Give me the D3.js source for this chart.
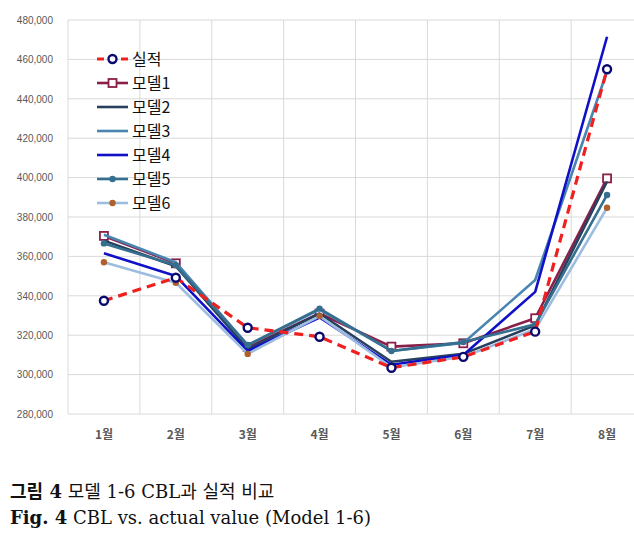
<!DOCTYPE html>
<html>
<head>
<meta charset="utf-8">
<script src="https://cdn.jsdelivr.net/npm/d3@7"></script>
<style>
  body { margin: 0; background: #fff; }
  svg { display: block; }
  .caption { font-family: "DejaVu Serif", "Liberation Serif", "Noto Sans CJK KR", serif; }
</style>
</head>
<body>
<div id="chart"></div>
<script>
const months = ["1월", "2월", "3월", "4월", "5월", "6월", "7월", "8월"]
const yTicks = [280000, 300000, 320000, 340000, 360000, 380000, 400000, 420000, 440000, 460000, 480000]

const actual = [337500, 349200, 323800, 319200, 303500, 309000, 321800, 455000]
const model1 = [370400, 356500, 314000, 331000, 314200, 315900, 328600, 399600]
const model2 = [368000, 355000, 313000, 331000, 306500, 310500, 325000, 398000]
const model3 = [371000, 357000, 315000, 333000, 312000, 316000, 348000, 454000]
const model4 = [361600, 350000, 312000, 329000, 305000, 310000, 342000, 471500]
const model5 = [366600, 355500, 315000, 333500, 312000, 316500, 325500, 391200]
const model6 = [357000, 346600, 310500, 329700, 303700, 309100, 323000, 384700]

const series = [
  {name: "모델1", values: model1, color: "#8a1f4a", marker: "square"},
  {name: "모델2", values: model2, color: "#26405e", marker: null},
  {name: "모델3", values: model3, color: "#4a84b0", marker: null},
  {name: "모델4", values: model4, color: "#1010c8", marker: null},
  {name: "모델5", values: model5, color: "#356f90", marker: "dot", markerColor: "#356f90"},
  {name: "모델6", values: model6, color: "#9dbde0", marker: "dot", markerColor: "#b0602a"},
  {name: "실적", values: actual, color: "#ee2020", marker: "circle", dashed: true}
]
const legendOrder = ["실적", "모델1", "모델2", "모델3", "모델4", "모델5", "모델6"]

const width = 634, height = 550
const plot = {left: 68, right: 643, top: 20, bottom: 414}

const svg = d3.select("#chart").append("svg")
  .attr("width", width)
  .attr("height", height)

const x = d3.scaleBand().domain(months).range([plot.left, plot.right])
const y = d3.scaleLinear().domain([280000, 480000]).range([plot.bottom, plot.top])

// gridlines
svg.append("g")
  .selectAll("line")
  .data(yTicks)
  .join("line")
  .attr("x1", plot.left).attr("x2", plot.right)
  .attr("y1", d => y(d)).attr("y2", d => y(d))
  .attr("stroke", "#d9d9d9").attr("stroke-width", 1)

svg.append("g")
  .selectAll("line")
  .data(months)
  .join("line")
  .attr("x1", d => x(d)).attr("x2", d => x(d))
  .attr("y1", plot.top).attr("y2", plot.bottom)
  .attr("stroke", "#d9d9d9").attr("stroke-width", 1)

// y axis labels
const yAxis = svg.append("g")
  .attr("transform", `translate(${plot.left - 12},0)`)
  .call(d3.axisLeft(y).tickValues(yTicks).tickFormat(d3.format(",")).tickSize(0))
yAxis.select(".domain").remove()
yAxis.selectAll("text")
  .attr("fill", "#595959")
  .style("font-family", "Arial, 'Liberation Sans', sans-serif")
  .style("font-size", "10px")

// x axis labels
const xAxis = svg.append("g")
  .attr("transform", `translate(0,${plot.bottom + 13})`)
  .call(d3.axisBottom(x).tickSize(0))
xAxis.select(".domain").remove()
xAxis.selectAll("text")
  .attr("fill", "#595959")
  .style("font-family", "'Noto Sans CJK KR', sans-serif")
  .style("font-size", "12px")
  .style("font-weight", "bold")

const cx = d => x(d) + x.bandwidth() / 2
const line = d3.line()
  .x((d, i) => cx(months[i]))
  .y(d => y(d))

function drawMarker(g, type, color, fill) {
  if (type === "square") {
    g.append("rect").attr("x", -4).attr("y", -4).attr("width", 8).attr("height", 8)
      .attr("fill", "#fff").attr("stroke", color).attr("stroke-width", 1.8)
  } else if (type === "circle") {
    g.append("circle").attr("r", 4)
      .attr("fill", "#fff").attr("stroke", "#0a0a6e").attr("stroke-width", 2.4)
  } else if (type === "dot") {
    g.append("circle").attr("r", 3.2).attr("fill", fill)
  }
}

for (const s of series) {
  svg.append("path")
    .datum(s.values)
    .attr("d", line)
    .attr("fill", "none")
    .attr("stroke", s.color)
    .attr("stroke-width", s.dashed ? 3.2 : 2.6)
    .attr("stroke-dasharray", s.dashed ? "9,6" : null)
    .attr("stroke-linejoin", "round")
  if (s.marker) {
    s.values.forEach((v, i) => {
      const g = svg.append("g").attr("transform", `translate(${cx(months[i])},${y(v)})`)
      drawMarker(g, s.marker, s.color, s.markerColor)
    })
  }
}

// legend
const legend = svg.append("g").attr("transform", "translate(97,59)")
legendOrder.forEach((name, i) => {
  const s = series.find(d => d.name === name)
  const row = legend.append("g").attr("transform", `translate(0,${i * 24})`)
  row.append("line")
    .attr("x1", 0).attr("x2", 31)
    .attr("stroke", s.color)
    .attr("stroke-width", s.dashed ? 3.2 : 2.6)
    .attr("stroke-dasharray", s.dashed ? "7,5" : null)
  if (s.marker) drawMarker(row.append("g").attr("transform", "translate(15.5,0)"), s.marker, s.color, s.markerColor)
  row.append("text")
    .attr("x", 35).attr("y", 6)
    .attr("font-family", "'Noto Sans CJK KR', sans-serif")
    .attr("font-size", "16px")
    .attr("fill", "#111")
    .text(name)
})

// caption
const cap1 = svg.append("text").attr("class", "caption").attr("x", 10).attr("y", 498).attr("font-size", "18px").attr("fill", "#111")
cap1.append("tspan").attr("font-weight", "bold").text("그림 4")
cap1.append("tspan").text(" 모델 1-6 CBL과 실적 비교")
const cap2 = svg.append("text").attr("class", "caption").attr("x", 10).attr("y", 524).attr("font-size", "18px").attr("fill", "#111")
cap2.append("tspan").attr("font-weight", "bold").text("Fig. 4")
cap2.append("tspan").text(" CBL vs. actual value (Model 1-6)")
</script>
</body>
</html>
